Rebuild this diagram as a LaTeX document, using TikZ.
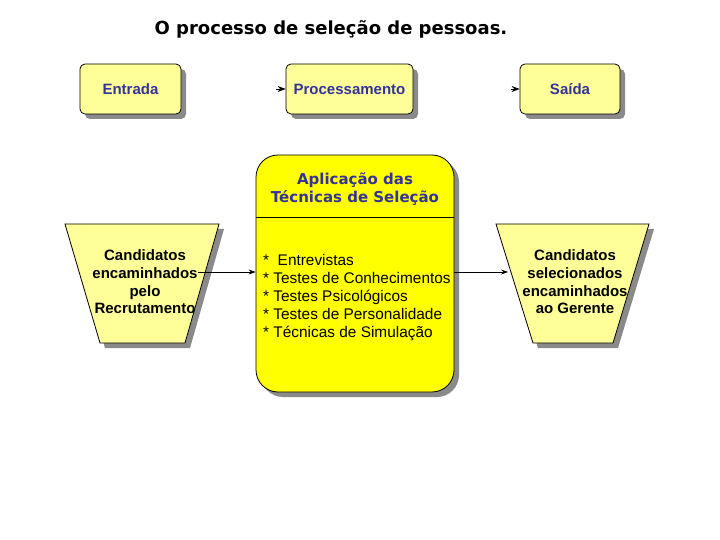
\documentclass[tikz,border=0pt]{standalone}
\usepackage{fontspec}
\setmainfont{Liberation Sans}
\newfontfamily\verd{DejaVu Sans}
\usetikzlibrary{arrows.meta,shadows}
\definecolor{navy}{HTML}{333399}
\definecolor{lightyel}{HTML}{FFFF99}
\definecolor{brightyel}{HTML}{FFFF00}
\definecolor{shadowgray}{HTML}{8A8A8A}
\begin{document}
\begin{tikzpicture}[x=1pt,y=-1pt,
  shadowed/.style={drop shadow={shadow xshift=5pt,shadow yshift=-5pt,fill=shadowgray,opacity=1}},
  smallbox/.style={draw=black,line width=0.8pt,fill=lightyel,rounded corners=5pt,
    minimum height=50pt,inner sep=0pt,text=navy,font=\fontsize{15}{17}\selectfont\bfseries,
    text height=11pt,text depth=0pt,shadowed},
  bigbox/.style={draw=black,line width=0.8pt,fill=brightyel,rounded corners=22pt,
    minimum width=198pt,minimum height=237pt,inner sep=0pt,shadowed},
  traptext/.style={align=center,inner sep=0pt,font=\fontsize{15}{17.7}\selectfont\bfseries},
  trapfill/.style={draw=black,line width=0.8pt,fill=lightyel},
  trapshadow/.style={fill=shadowgray},
  arr/.style={-{Stealth[length=7pt,width=5pt]},line width=0.7pt},
  headonly/.style={-{Stealth[length=8pt,width=6pt]},line width=0.7pt}]
\useasboundingbox (0,0) rectangle (720,540);

% title
\node[font=\verd\fontsize{18}{20}\selectfont\bfseries] (title) at (331,29.5) {O processo de seleção de pessoas.};

% top row
\node[smallbox,minimum width=101pt] (entrada) at (130.5,89) {Entrada};
\node[smallbox,minimum width=127pt] (proc) at (349.5,89) {Processamento};
\node[smallbox,minimum width=100pt] (saida) at (570,89) {Saída};
\coordinate (h1) at (276,89);
\coordinate (h2) at (511,89);
\draw[headonly] (h1) -- (proc.west);
\draw[headonly] (h2) -- (saida.west);

% big box
\node[bigbox] (big) at (355,273.5) {};
\coordinate (div) at (355,217);
\draw[line width=0.8pt] (big.west |- div) -- (big.east |- div);
\node[align=center,inner sep=0pt,text=navy,font=\verd\fontsize{15}{18}\selectfont\bfseries] (bigtitle) at (355,189) {Aplicação das\\Técnicas de Seleção};
\node[anchor=west,align=left,inner sep=0pt,font=\fontsize{15.4}{17.8}\selectfont] (list) at (263,297.5)
 {*\ \ Entrevistas\\* Testes de Conhecimentos\\* Testes Psicológicos\\* Testes de Personalidade\\* Técnicas de Simulação};

% left trapezoid
\fill[trapshadow] (70,229) -- (224,229) -- (190,348) -- (105,348) -- cycle;
\draw[trapfill] (65,224) -- (219,224) -- (185,343) -- (100,343) -- cycle;
\node[traptext] (lt) at (145,282) {Candidatos\\encaminhados\\pelo\\Recrutamento};

% right trapezoid
\fill[trapshadow] (501,229) -- (654,229) -- (618,348) -- (538,348) -- cycle;
\draw[trapfill] (496,224) -- (649,224) -- (613,343) -- (533,343) -- cycle;
\node[traptext] (rt) at (575,282) {Candidatos\\selecionados\\encaminhados\\ao Gerente};

% connectors
\coordinate (a1) at (198,272);
\coordinate (a2) at (508,272);
\draw[arr] (a1) -- (big.west |- a1);
\draw[arr] (big.east |- a2) -- (a2);
\end{tikzpicture}
\end{document}
